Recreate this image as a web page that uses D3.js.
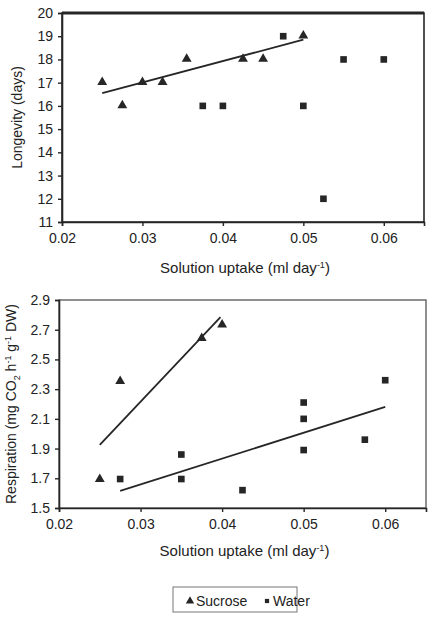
<!DOCTYPE html>
<html>
<head>
<meta charset="utf-8">
<script src="https://cdn.jsdelivr.net/npm/d3@7"></script>
<style>
  body { margin: 0; background: #fff; }
  svg { display: block; font-family: "Liberation Sans", Arial, sans-serif; }
</style>
</head>
<body>
<div id="chart"></div>
<script>
// data
var xTicks = [0.02, 0.03, 0.04, 0.05, 0.06];

var longSucroseX = [0.025, 0.0275, 0.03, 0.0325, 0.0355, 0.0425, 0.045, 0.05];
var longSucroseY = [17, 16, 17, 17, 18, 18, 18, 19];
var longWaterX = [0.0375, 0.04, 0.0475, 0.05, 0.0525, 0.055, 0.06];
var longWaterY = [16, 16, 19, 16, 12, 18, 18];
var longSucroseTrend = [[0.025, 16.55], [0.05, 18.85]];
var longTicks = [11, 12, 13, 14, 15, 16, 17, 18, 19, 20];

var respSucroseX = [0.025, 0.0275, 0.0375, 0.04];
var respSucroseY = [1.69, 2.35, 2.64, 2.73];
var respWaterX = [0.0275, 0.035, 0.035, 0.0425, 0.05, 0.05, 0.05, 0.0575, 0.06];
var respWaterY = [1.695, 1.86, 1.695, 1.62, 2.21, 2.10, 1.89, 1.96, 2.36];
var respSucroseTrend = [[0.025, 1.925], [0.0398, 2.785]];
var respWaterTrend = [[0.0275, 1.615], [0.06, 2.18]];
var respTicks = [1.5, 1.7, 1.9, 2.1, 2.3, 2.5, 2.7, 2.9];

var ink = "#262626";

var svg = d3.select("#chart").append("svg")
    .attr("width", 428)
    .attr("height", 617);

var tri = d3.symbol().type(d3.symbolTriangle).size(42);
var sq = d3.symbol().type(d3.symbolSquare).size(44);

function zip(xs, ys) {
    return xs.map(function (x, i) { return [x, ys[i]]; });
}

function panel(opt) {
    var g = svg.append("g");
    var x = d3.scaleLinear().domain([0.02, 0.065]).range([opt.left, opt.right]);
    var y = d3.scaleLinear().domain(opt.yDomain).range([opt.bottom, opt.top]);

    // frame
    g.append("rect")
        .attr("x", opt.left).attr("y", opt.top)
        .attr("width", opt.right - opt.left).attr("height", opt.bottom - opt.top)
        .style("fill", "none").style("stroke", opt.frame).style("stroke-width", opt.frameW);
    if (opt.thickTop) {
        g.append("line")
            .attr("x1", opt.left).attr("x2", opt.right)
            .attr("y1", opt.top).attr("y2", opt.top)
            .style("stroke", ink).style("stroke-width", 3);
    }

    var xAxis = g.append("g")
        .attr("transform", "translate(0," + opt.bottom + ")")
        .call(d3.axisBottom(x).tickValues(xTicks).tickSize(4).tickPadding(7)
            .tickFormat(d3.format(".2f")));
    var yAxis = g.append("g")
        .attr("transform", "translate(" + opt.left + ",0)")
        .call(d3.axisLeft(y).tickValues(opt.yTicks).tickSize(4).tickPadding(5)
            .tickFormat(opt.yFormat));
    [xAxis, yAxis].forEach(function (a) {
        a.select(".domain").style("stroke", ink).style("stroke-width", 1.6);
        a.selectAll(".tick line").style("stroke", ink).style("stroke-width", 1.4);
        a.selectAll("text").style("font-size", "14px").style("fill", "#222")
            .style("font-family", "'Liberation Sans', Arial, sans-serif");
    });

    // trend lines
    var line = d3.line().x(function (d) { return x(d[0]); }).y(function (d) { return y(d[1]); });
    opt.trends.forEach(function (t) {
        g.append("path").attr("d", line(t))
            .style("fill", "none").style("stroke", ink).style("stroke-width", 1.8);
    });

    // points
    g.selectAll(".tri").data(opt.sucrose).enter().append("path")
        .attr("d", tri)
        .attr("transform", function (d) { return "translate(" + x(d[0]) + "," + (y(d[1]) - 0.5) + ")"; })
        .style("fill", ink);
    g.selectAll(".sq").data(opt.water).enter().append("path")
        .attr("d", sq)
        .attr("transform", function (d) { return "translate(" + x(d[0]) + "," + y(d[1]) + ")"; })
        .style("fill", ink);

    // axis titles
    var xt = g.append("text")
        .attr("x", (opt.left + opt.right) / 2 + 2).attr("y", opt.xTitleY)
        .attr("text-anchor", "middle")
        .style("font-size", "15px").style("fill", "#222");
    xt.append("tspan").text("Solution uptake (ml day");
    xt.append("tspan").attr("dy", -5).style("font-size", "9px").text("-1");
    xt.append("tspan").attr("dy", 5).text(")");

    var yt = g.append("text")
        .attr("transform", "translate(" + opt.yTitleX + "," + ((opt.top + opt.bottom) / 2) + ") rotate(-90)")
        .attr("text-anchor", "middle")
        .style("font-size", "14px").style("fill", "#222");
    opt.yTitle(yt);
}

panel({
    left: 62, right: 424, top: 13, bottom: 222,
    yDomain: [11, 20], yTicks: longTicks, yFormat: d3.format("d"),
    frame: ink, frameW: 1.6, thickTop: true,
    sucrose: zip(longSucroseX, longSucroseY),
    water: zip(longWaterX, longWaterY),
    trends: [longSucroseTrend],
    xTitleY: 273, yTitleX: 22,
    yTitle: function (t) { t.text("Longevity (days)"); }
});

panel({
    left: 59, right: 426, top: 300, bottom: 508,
    yDomain: [1.5, 2.9], yTicks: respTicks, yFormat: d3.format(".1f"),
    frame: "#555", frameW: 1.3, thickTop: false,
    sucrose: zip(respSucroseX, respSucroseY),
    water: zip(respWaterX, respWaterY),
    trends: [respSucroseTrend, respWaterTrend],
    xTitleY: 556, yTitleX: 16,
    yTitle: function (t) {
        t.append("tspan").text("Respiration (mg CO");
        t.append("tspan").attr("dy", 4).style("font-size", "9px").text("2");
        t.append("tspan").attr("dy", -4).text(" h");
        t.append("tspan").attr("dy", -5).style("font-size", "9px").text("-1");
        t.append("tspan").attr("dy", 5).text(" g");
        t.append("tspan").attr("dy", -5).style("font-size", "9px").text("-1");
        t.append("tspan").attr("dy", 5).text(" DW)");
    }
});

// legend
var leg = svg.append("g");
leg.append("rect")
    .attr("x", 173).attr("y", 587).attr("width", 124).attr("height", 25)
    .style("fill", "#fff").style("stroke", "#777").style("stroke-width", 1);
leg.append("path").attr("d", d3.symbol().type(d3.symbolTriangle).size(30))
    .attr("transform", "translate(190,601)").style("fill", ink);
leg.append("text").attr("x", 196).attr("y", 605.5)
    .style("font-size", "14px").style("fill", "#222").text("Sucrose");
leg.append("path").attr("d", d3.symbol().type(d3.symbolSquare).size(18))
    .attr("transform", "translate(267,601)").style("fill", ink);
leg.append("text").attr("x", 273).attr("y", 605.5)
    .style("font-size", "14px").style("fill", "#222").text("Water");
</script>
</body>
</html>
